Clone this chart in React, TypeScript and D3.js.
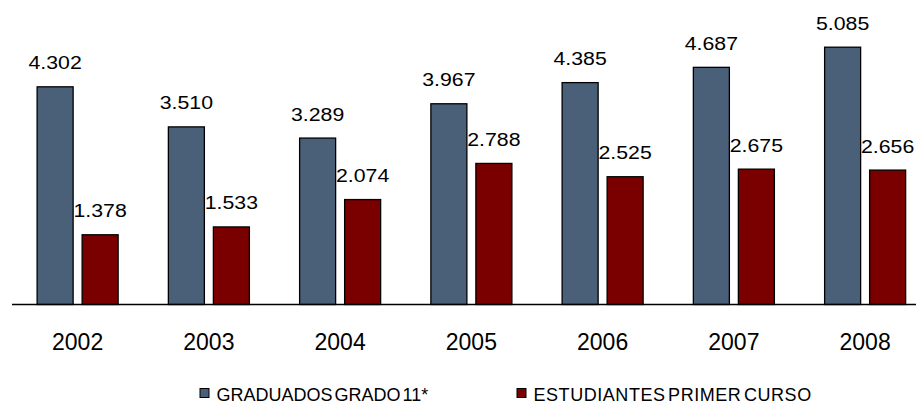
import React from "react";
import * as d3 from "d3";

const years = ["2002", "2003", "2004", "2005", "2006", "2007", "2008"];
const graduados = [4302, 3510, 3289, 3967, 4385, 4687, 5085];
const estudiantes = [1378, 1533, 2074, 2788, 2525, 2675, 2656];
const seriesNames = ["GRADUADOS GRADO 11*", "ESTUDIANTES PRIMER CURSO"];
const seriesColors = ["#4a6078", "#7a0000"];

const W = 916;
const H = 403;
const baseY = 304.5;
const fmt = (v: number) => d3.format(",")(v).replace(/,/g, ".");

export default function App() {
  const x0 = d3.scaleBand<string>().domain(years).range([12, 12 + 7 * 131.25]).padding(0);
  const x1 = d3
    .scaleBand<string>()
    .domain(seriesNames)
    .range([0, x0.bandwidth()])
    .paddingInner(0.2)
    .paddingOuter(0.558);
  const y = d3.scaleLinear().domain([0, 6000]).range([baseY, baseY - 6000 * 0.0506]);
  const data = [graduados, estudiantes];
  const font = "'Liberation Sans', Arial, sans-serif";
  const legendLetterSpacing = [0, 0.55];

  return (
    <svg
      width={W}
      height={H}
      style={{ position: "absolute", left: 0, top: 0, background: "#fff" }}
      fontFamily={font}
    >
      {years.map((yr, i) => (
        <g key={yr} transform={`translate(${x0(yr)},0)`}>
          {seriesNames.map((s, si) => {
            const v = data[si][i];
            const bx = x1(s)!;
            const bw = x1.bandwidth();
            return (
              <g key={s}>
                <rect
                  x={bx}
                  y={y(v)}
                  width={bw}
                  height={baseY - y(v)}
                  fill={seriesColors[si]}
                  stroke="#000"
                  strokeWidth={1.3}
                />
                <text
                  x={bx + bw / 2}
                  y={y(v) - 17.5}
                  textAnchor="middle"
                  fontSize={19}
                  fill="#000"
                  transform={`translate(${bx + bw / 2},0) scale(1.12,1) translate(${-(bx + bw / 2)},0)`}
                >
                  {fmt(v)}
                </text>
              </g>
            );
          })}
          <text
            x={x0.bandwidth() / 2}
            y={349.5}
            textAnchor="middle"
            fontSize={23}
            fill="#000"
          >
            {yr}
          </text>
        </g>
      ))}
      <line x1={12} x2={W} y1={baseY} y2={baseY} stroke="#000" strokeWidth={1.5} />
      {/* legend */}
      {seriesNames.map((s, si) => {
        const lx = si === 0 ? 200 : 517;
        return (
          <g key={s}>
            <rect x={lx} y={388.5} width={9} height={9} fill={seriesColors[si]} stroke="#000" strokeWidth={1} />
            <text
              x={lx + 16.5}
              y={400.5}
              fontSize={18}
              wordSpacing={-3}
              letterSpacing={legendLetterSpacing[si]}
              fill="#000"
            >
              {s}
            </text>
          </g>
        );
      })}
    </svg>
  );
}
